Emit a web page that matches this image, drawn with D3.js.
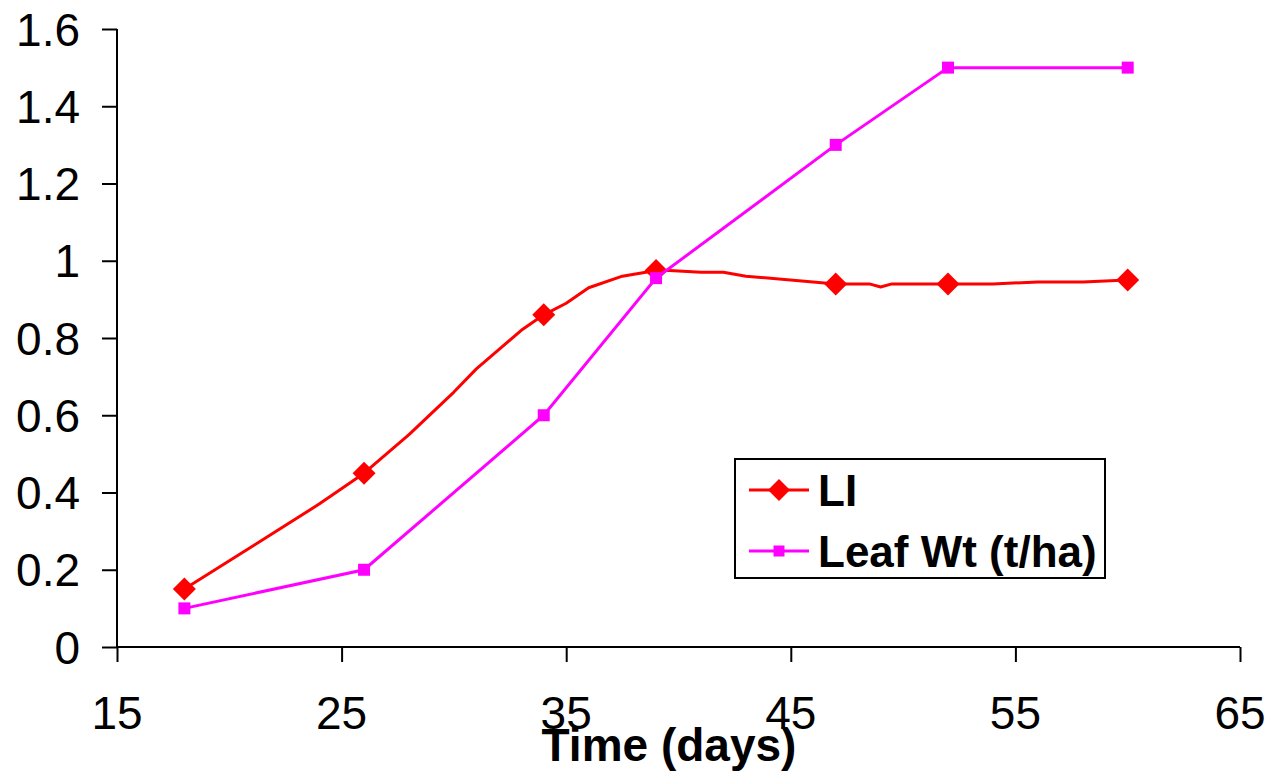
<!DOCTYPE html>
<html lang="en">
<head>
<meta charset="UTF-8">
<title>LI and Leaf Wt</title>
<script src="https://d3js.org/d3.v7.min.js"></script>
<style>
  body { margin: 0; background: #fff; font-family: 'Liberation Sans', Arial, sans-serif; }
  .axis path, .axis line { stroke: #000; stroke-width: 2px; }
</style>
</head>
<body>
<script>
// LI curve (markers only on the measured days)
const liDays   = [18, 24, 26, 28, 30, 31, 33, 34, 35, 36, 37.5, 39, 39.6, 41, 42, 43, 47, 48.5, 49, 49.5, 52, 54, 56, 58, 60];
const liValues = [0.15, 0.37, 0.45, 0.55, 0.66, 0.72, 0.82, 0.86, 0.89, 0.93, 0.96, 0.975, 0.975, 0.97, 0.97, 0.96, 0.94, 0.94, 0.932, 0.94, 0.94, 0.94, 0.945, 0.945, 0.95];
const liMarkerDays = [18, 26, 34, 39, 47, 52, 60];

// Leaf weight
const leafDays   = [18, 26, 34, 39, 47, 52, 60];
const leafValues = [0.1, 0.2, 0.6, 0.955, 1.3, 1.5, 1.5];

const xTicks = [15, 25, 35, 45, 55, 65];
const yTicks = [0, 0.2, 0.4, 0.6, 0.8, 1, 1.2, 1.4, 1.6];
const seriesNames = ["LI", "Leaf Wt (t/ha)"];
const xTitle = "Time (days)";

const width = 1270, height = 771;
const plotL = 117, plotR = 1240, plotT = 29, plotB = 647;

const x = d3.scaleLinear().domain([15, 65]).range([plotL, plotR]);
const y = d3.scaleLinear().domain([0, 1.6]).range([plotB, plotT]);

const svg = d3.select('body').append('svg')
    .attr('width', width)
    .attr('height', height);

function addText(g, tx, ty, str, anchor, size, weight) {
    return g.append('text')
        .attr('x', tx)
        .attr('y', ty)
        .attr('text-anchor', anchor)
        .style('font-size', size + 'px')
        .style('font-weight', weight || 'normal')
        .attr('fill', '#000')
        .text(str);
}

// axes
const yAxis = svg.append('g').attr('class', 'axis')
    .attr('transform', `translate(${plotL},0)`)
    .call(d3.axisLeft(y).tickValues(yTicks).tickSize(15).tickSizeOuter(0).tickFormat(''));
const xAxis = svg.append('g').attr('class', 'axis')
    .attr('transform', `translate(0,${plotB})`)
    .call(d3.axisBottom(x).tickValues(xTicks).tickSize(15).tickSizeOuter(0).tickFormat(''));
yAxis.select('.domain').attr('d', `M0,${plotT}V${plotB}`);
xAxis.select('.domain').attr('d', `M${plotL},0H${plotR}`);

// tick labels
yTicks.forEach(t => addText(svg, 80, y(t) + 16.5, d3.format('')(t), 'end', 46));
xTicks.forEach(t => addText(svg, x(t), plotB + 82, String(t), 'middle', 46));

// axis title (overlaps the tick labels, as in the original)
addText(svg, 669, 761, xTitle, 'middle', 46, 'bold');

// LI series
const liData = liDays.map((d, i) => ({ day: d, v: liValues[i] }));
const line = d3.line().x(d => x(d.day)).y(d => y(d.v));
svg.append('path')
    .datum(liData)
    .attr('d', line)
    .attr('fill', 'none')
    .attr('stroke', '#FF0000')
    .attr('stroke-width', 3)
    .attr('stroke-linejoin', 'round');

const diamond = 11.5;
svg.selectAll('.li-mark')
    .data(liData.filter(d => liMarkerDays.includes(d.day)))
    .join('path')
    .attr('class', 'li-mark')
    .attr('d', d => `M${x(d.day)},${y(d.v) - diamond}L${x(d.day) + diamond},${y(d.v)}L${x(d.day)},${y(d.v) + diamond}L${x(d.day) - diamond},${y(d.v)}Z`)
    .attr('fill', '#FF0000');

// Leaf series
const leafData = leafDays.map((d, i) => ({ day: d, v: leafValues[i] }));
svg.append('path')
    .datum(leafData)
    .attr('d', line)
    .attr('fill', 'none')
    .attr('stroke', '#FF00FF')
    .attr('stroke-width', 3);

svg.selectAll('.leaf-mark')
    .data(leafData)
    .join('rect')
    .attr('class', 'leaf-mark')
    .attr('x', d => x(d.day) - 6)
    .attr('y', d => y(d.v) - 6)
    .attr('width', 12)
    .attr('height', 12)
    .attr('fill', '#FF00FF');

// legend
const lg = svg.append('g').attr('transform', 'translate(735,459)');
lg.append('rect')
    .attr('width', 370).attr('height', 119)
    .attr('fill', '#fff').attr('stroke', '#000').attr('stroke-width', 2);

const legendRows = [
    { name: seriesNames[0], color: '#FF0000', shape: 'diamond', cy: 31 },
    { name: seriesNames[1], color: '#FF00FF', shape: 'square', cy: 92 }
];
legendRows.forEach(r => {
    lg.append('line')
        .attr('x1', 14).attr('x2', 74)
        .attr('y1', r.cy).attr('y2', r.cy)
        .attr('stroke', r.color).attr('stroke-width', 3);
    if (r.shape === 'diamond') {
        lg.append('path')
            .attr('d', `M44,${r.cy - 11}L55,${r.cy}L44,${r.cy + 11}L33,${r.cy}Z`)
            .attr('fill', r.color);
    } else {
        lg.append('rect')
            .attr('x', 38.5).attr('y', r.cy - 5.5)
            .attr('width', 11).attr('height', 11)
            .attr('fill', r.color);
    }
    addText(lg, 83, r.cy + 16, r.name, 'start', 44, 'bold');
});
</script>
</body>
</html>
